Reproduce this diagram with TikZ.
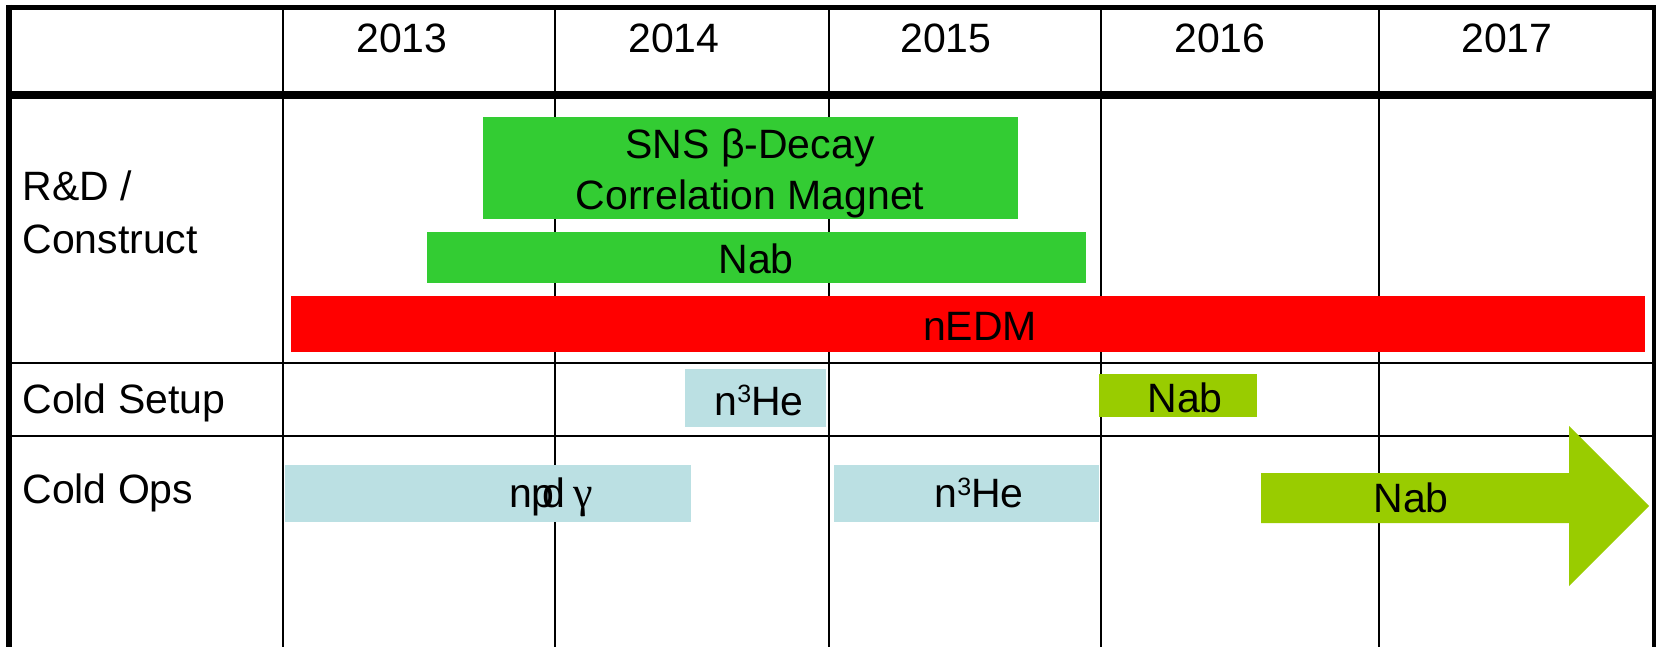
\documentclass[tikz,border=0pt]{standalone}
\usepackage{fontspec}
\setmainfont{Liberation Sans}
\newfontfamily\greekserif{Liberation Serif}
\definecolor{rdgreen}{HTML}{33CC33}
\definecolor{rdred}{HTML}{FF0000}
\definecolor{coldblue}{HTML}{BBE0E3}
\definecolor{nabgreen}{HTML}{99CC00}
\newcommand{\supthree}{\raisebox{6pt}{\fontsize{12.5}{12.5}\selectfont 3}}
\begin{document}
\begin{tikzpicture}[x=0.5pt,y=-0.5pt,
  txt/.style={anchor=base,inner sep=0pt,font=\fontsize{20.5}{25.5}\selectfont},
  rowtxt/.style={anchor=base west,inner sep=0pt,font=\fontsize{20.5}{25.5}\selectfont},
  gridthin/.style={line width=1.3pt,black},
  gridthick/.style={line width=4pt,black}]
\useasboundingbox (0,0) rectangle (1656,647);
\fill[white] (0,0) rectangle (1656,647);
% grid
\foreach \xx in {283,555,829,1101,1379}
  \draw[gridthin] (\xx,7) -- (\xx,647);
\draw[gridthin] (9,363) -- (1654,363);
\draw[gridthin] (9,436) -- (1654,436);
\draw[gridthick] (9,95) -- (1656,95);
\draw[line width=2.75pt] (6,7.5) -- (1656,7.5);
\draw[line width=3.25pt] (9,5) -- (9,647);
\draw[line width=2.5pt] (1654.5,5) -- (1654.5,647);
% years
\node[txt] (y13) at (402,53) {2013};
\node[txt] (y14) at (674,53) {2014};
\node[txt] (y15) at (946,53) {2015};
\node[txt] (y16) at (1220,53) {2016};
\node[txt] (y17) at (1507,53) {2017};
% row labels
\node[rowtxt] (rd1) at (22,200) {R\&D /};
\node[rowtxt] (rd2) at (22,253) {Construct};
\node[rowtxt] (cs) at (22,413) {Cold Setup};
\node[rowtxt] (co) at (22,503) {Cold Ops};
% bars
\fill[rdgreen] (483,117) rectangle (1018,219);
\fill[rdgreen] (427,232) rectangle (1086,283);
\fill[rdred] (291,296) rectangle (1645,352);
\fill[coldblue] (685,369) rectangle (826,427);
\fill[nabgreen] (1099,374) rectangle (1257,417);
\fill[coldblue] (285,465) rectangle (691,522);
\fill[coldblue] (834,465) rectangle (1099,522);
\fill[nabgreen] (1261,473) -- (1569,473) -- (1569,426) -- (1649,506)
  -- (1569,586) -- (1569,523) -- (1261,523) -- cycle;
% bar labels
\node[txt] (sns1) at (750,159) {SNS β-Decay};
\node[txt] (sns2) at (750,210) {Correlation Magnet};
\node[txt] (nabrd) at (756,273) {Nab};
\node[txt] (nedm) at (980,340) {nEDM};
\node[txt] (hesetup) at (759,415) {n\supthree He};
\node[txt] (nabsetup) at (1185,412) {Nab};
\node[txt] (npdg) at (551,507) {np\kern-0.3em d\kern0.2em{\greekserif\fontsize{22}{25}\selectfont γ}};
\node[txt] (heops) at (979,507) {n\supthree He};
\node[txt] (nabops) at (1411,512) {Nab};
\end{tikzpicture}
\end{document}
